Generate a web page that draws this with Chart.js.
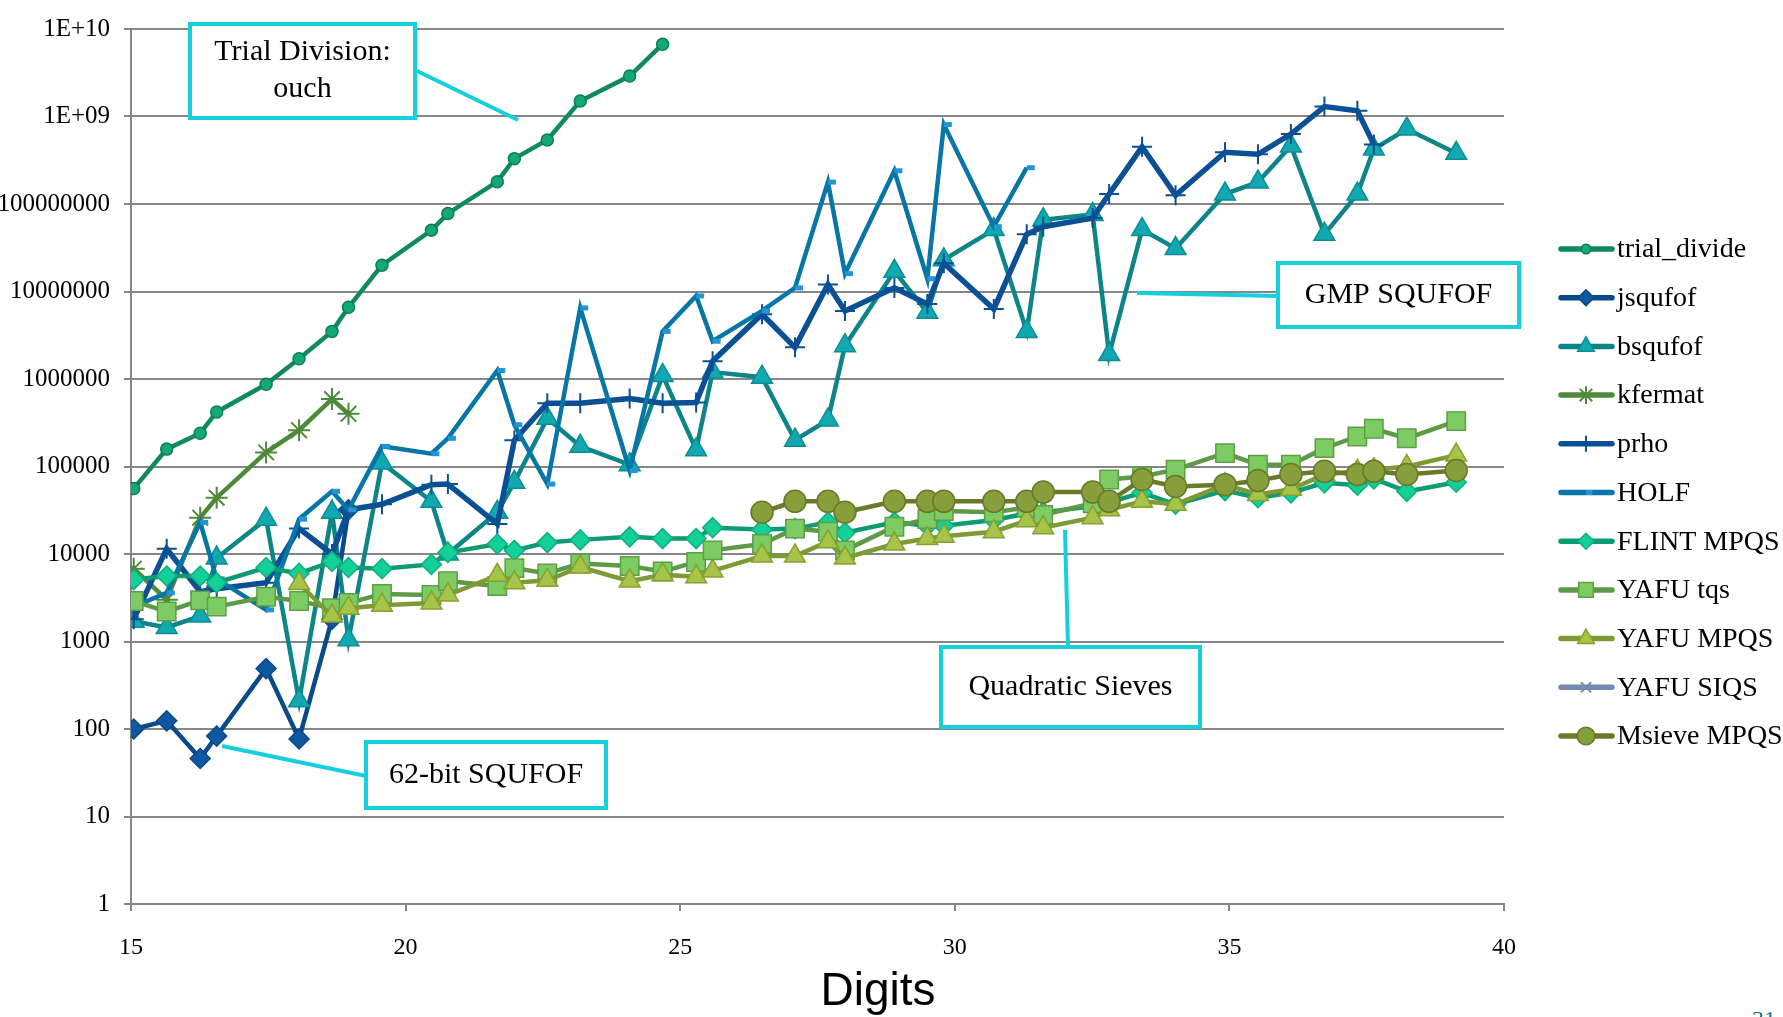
<!DOCTYPE html>
<html>
<head>
<meta charset="utf-8">
<title>Factoring time vs digits</title>
<script src="https://cdn.jsdelivr.net/npm/chart.js@4.4.0/dist/chart.umd.min.js"></script>
<style>
  html, body { margin: 0; padding: 0; background: #fff; }
  #wrap { width: 1783px; height: 1017px; position: relative; }
</style>
</head>
<body>
<div id="wrap"><canvas id="factorChart"></canvas></div>
<script>
// digits of the test semiprimes (x positions)
const digits = [15.05, 15.65, 16.26, 16.56, 17.46, 18.06, 18.66, 18.96, 19.57, 20.47,
  20.77, 21.67, 21.98, 22.58, 23.18, 24.08, 24.68, 25.29, 25.59, 26.49,
  27.09, 27.69, 28.00, 28.90, 29.50, 29.80, 30.71, 31.31, 31.61, 32.51,
  32.81, 33.41, 34.02, 34.92, 35.52, 36.12, 36.73, 37.33, 37.63, 38.23, 39.13];

// timings per algorithm, one entry per digits[] slot (null = not run)
const trialDivide = [56000, 158000, 240000, 420000, 870000, 1700000, 3500000, 6600000, 20000000, 50000000,
  78000000, 180000000, 330000000, 540000000, 1500000000, 2900000000, 6700000000];
const jsqufof = [100, 124, 46, 83, 490, 77, 1800, 32000];
const bsqufof = [1700, 1450, 1950, 9000, 25000, 210, 30000, 1050, 110000, 40000,
  10000, 30000, 66000, 355000, 170000, 105000, 1100000, 155000, 1200000, 1050000,
  200000, 340000, 2400000, 17000000, 5800000, 23000000, 51000000, 3500000, 66000000, 76000000,
  1900000, 51000000, 31000000, 130000000, 178000000, 460000000, 45000000, 130000000, 425000000, 720000000, 380000000];
const kfermat = [6800, 3000, 26000, 44000, 145000, 260000, 590000, 400000];
const prho = [1800, 11500, 3700, 4000, 4700, 19500, 10000, 32000, 37000, 62000,
  63000, 22000, 200000, 530000, 530000, 600000, 530000, 540000, 1600000, 5500000,
  2300000, 12000000, 6000000, 11000000, 7200000, 21000000, 6300000, 45000000, 55000000, 69000000,
  130000000, 450000000, 126000000, 390000000, 370000000, 630000000, 1300000000, 1160000000, 480000000];
const holf = [2500, 3600, 23000, 5200, 2300, 25000, 52000, 32000, 170000, 140000,
  210000, 1250000, 300000, 63000, 6500000, 90000, 3500000, 8900000, 2700000, 6000000,
  11000000, 178000000, 16000000, 240000000, 14000000, 810000000, 55000000, 260000000];
const flintMpqs = [5100, 5600, 5600, 4700, 7000, 6000, 8200, 7000, 6800, 7600,
  10400, 13000, 11000, 13500, 14500, 15700, 15000, 15000, 20000, 19000,
  19500, 23000, 17500, 23000, 21000, 21000, 24500, 29000, 30000, 35000,
  39000, 50000, 37000, 53000, 44000, 50000, 65000, 61000, 72000, 52000, 66000];
const yafuTqs = [2900, 2200, 2950, 2500, 3250, 2900, 2400, 2750, 3500, 3400,
  4900, 4300, 6900, 6000, 7800, 7300, 6300, 8100, 11000, 13000,
  19500, 18000, 11000, 20500, 25000, 31000, 30000, 34000, 28000, 38000,
  71000, 77000, 92000, 142000, 105000, 105000, 162000, 220000, 270000, 210000, 330000];
const yafuMpqs = [null, null, null, null, null, 4600, 1950, 2400, 2600, 2750,
  3400, 5700, 4700, 5000, 7100, 4900, 5800, 5500, 6400, 9500,
  9500, 13800, 9000, 13000, 15000, 16000, 18000, 24000, 20000, 26000,
  32000, 40000, 37000, 62000, 48000, 55000, 81000, 88000, 92000, 100000, 135000];
const yafuSiqs = [];
const msieveMpqs = [null, null, null, null, null, null, null, null, null, null,
  null, null, null, null, null, null, null, null, null, 30000,
  40000, 40000, 30000, 40000, 40000, 40000, 40000, 40000, 51000, 51000,
  40000, 71000, 59000, 62000, 69000, 81000, 88000, 81000, 88000, 81000, 90000];

const yTickValues = [1, 10, 100, 1000, 10000, 100000, 1000000, 10000000, 100000000, 1000000000, 10000000000];
const yTickLabels = ["1", "10", "100", "1000", "10000", "100000", "1000000", "10000000", "100000000", "1E+09", "1E+10"];
const xTitle = "Digits";

// callout boxes: [left, top, right, bottom], leader [x1, y1, x2, y2]
const callouts = [
  { text: ["Trial Division:", "ouch"], box: [190, 24, 415, 118], lead: [415, 70, 518, 120] },
  { text: ["GMP SQUFOF"], box: [1278, 263, 1519, 327], lead: [1137, 293, 1278, 296] },
  { text: ["Quadratic Sieves"], box: [941, 647, 1200, 727], lead: [1065, 530, 1068, 647] },
  { text: ["62-bit SQUFOF"], box: [366, 742, 606, 808], lead: [222, 746, 366, 776] }
];

const SERIF = "'Liberation Serif', 'Times New Roman', serif";
const GRID = "#868686";
const CALLOUT = "#13d0dc";

// turn a value list into {x, y} points, skipping gaps
function toPoints(values) {
  const pts = [];
  values.forEach((v, i) => {
    if (v !== null && v !== undefined) pts.push({ x: digits[i], y: v });
  });
  return pts;
}

function series(label, values, line, fill, edge, style, radius, width) {
  return {
    label: label,
    data: toPoints(values),
    borderColor: line,
    borderWidth: width || 4.5,
    backgroundColor: fill,
    pointBackgroundColor: fill,
    pointBorderColor: edge,
    pointBorderWidth: style === "cross" || style === "star" || style === "crossRot" ? 2 : (style === "dash" ? 5 : 1.5),
    pointStyle: style,
    pointRadius: radius,
    pointHoverRadius: radius,
    tension: 0,
    fill: false
  };
}

const datasets = [
  series("trial_divide", trialDivide, "#0f8a5f", "#12a878", "#0c7f56", "circle", 6),
  series("jsqufof", jsqufof, "#0a4a88", "#0d57a3", "#0a4a88", "rectRot", 10),
  series("bsqufof", bsqufof, "#0d8588", "#10a9b1", "#0c8d92", "triangle", 12),
  series("kfermat", kfermat, "#4d8a3a", "#4d8a3a", "#4d8a3a", "star", 11),
  series("prho", prho, "#0b4f94", "#0b4f94", "#0b4f94", "cross", 10, 5.5),
  series("HOLF", holf, "#0775a6", "#2394d6", "#2394d6", "dash", 8),
  series("FLINT MPQS", flintMpqs, "#0d9b72", "#13cf98", "#0fae7f", "rectRot", 10),
  series("YAFU tqs", yafuTqs, "#5d9a48", "#7ccb63", "#5e9e45", "rect", 13),
  series("YAFU MPQS", yafuMpqs, "#7e9a34", "#a6c447", "#86a031", "triangle", 12),
  series("YAFU SIQS", yafuSiqs, "#7588b0", "#7588b0", "#7588b0", "crossRot", 9),
  series("Msieve MPQS", msieveMpqs, "#677b2a", "#869e3c", "#667a28", "circle", 11)
];
// later series sit on top, like the original sheet
datasets.forEach((d, i) => { d.order = -i; });

// legend with a line through the marker, drawn by hand
const sideLegend = {
  id: "sideLegend",
  afterDraw(chart) {
    const ctx = chart.ctx;
    ctx.save();
    chart.data.datasets.forEach((d, i) => {
      const y = 249 + i * 48.7;
      ctx.strokeStyle = d.borderColor;
      ctx.lineWidth = 5.5;
      ctx.lineCap = "round";
      ctx.beginPath();
      ctx.moveTo(1561, y);
      ctx.lineTo(1612, y);
      ctx.stroke();
      ctx.lineCap = "butt";
      ctx.fillStyle = d.pointBackgroundColor;
      ctx.strokeStyle = d.pointBorderColor;
      ctx.lineWidth = d.pointBorderWidth;
      Chart.helpers.drawPoint(ctx, {
        pointStyle: d.pointStyle,
        radius: d.pointRadius * 0.8,
        rotation: 0,
        borderWidth: d.pointBorderWidth
      }, 1586, y);
      ctx.fillStyle = "#000";
      ctx.font = "28px " + SERIF;
      ctx.textAlign = "left";
      ctx.textBaseline = "middle";
      ctx.fillText(d.label, 1617, y + 1);
    });
    ctx.restore();
  }
};

const calloutPlugin = {
  id: "callouts",
  afterDraw(chart) {
    const ctx = chart.ctx;
    ctx.save();
    callouts.forEach(c => {
      ctx.strokeStyle = CALLOUT;
      ctx.lineWidth = 4;
      ctx.beginPath();
      ctx.moveTo(c.lead[0], c.lead[1]);
      ctx.lineTo(c.lead[2], c.lead[3]);
      ctx.stroke();
      const [l, t, r, b] = c.box;
      ctx.fillStyle = "#fff";
      ctx.fillRect(l, t, r - l, b - t);
      ctx.strokeRect(l, t, r - l, b - t);
      ctx.fillStyle = "#000";
      ctx.font = "30px " + SERIF;
      ctx.textAlign = "center";
      ctx.textBaseline = "middle";
      const cx = (l + r) / 2;
      const step = 37;
      const y0 = (t + b) / 2 - (c.text.length - 1) * step / 2;
      c.text.forEach((s, k) => ctx.fillText(s, cx, y0 + k * step));
    });
    // axis title and slide number
    ctx.fillStyle = "#000";
    ctx.font = "46px 'Liberation Sans', Arial, sans-serif";
    ctx.textAlign = "center";
    ctx.textBaseline = "middle";
    ctx.fillText(xTitle, 878, 992);
    ctx.fillStyle = "#1f6f8b";
    ctx.font = "24px " + SERIF;
    ctx.textBaseline = "top";
    ctx.fillText("31", 1764, 1009);
    ctx.restore();
  }
};

const ctx = document.getElementById("factorChart").getContext("2d");
new Chart(ctx, {
  type: "line",
  data: { datasets: datasets },
  options: {
    responsive: true,
    maintainAspectRatio: false,
    animation: false,
    devicePixelRatio: 1,
    layout: { padding: { left: 0, right: 279, top: 20, bottom: 0 } },
    plugins: {
      legend: { display: false },
      tooltip: { enabled: false }
    },
    scales: {
      x: {
        type: "linear",
        min: 15,
        max: 40,
        afterFit: (scale) => { scale.height = 113; },
        ticks: {
          stepSize: 5,
          color: "#000",
          padding: 22,
          font: { family: SERIF, size: 24 }
        },
        grid: { drawOnChartArea: false, drawTicks: true, tickLength: 7, color: GRID, lineWidth: 2 },
        border: { display: true, color: GRID, width: 2 }
      },
      y: {
        type: "logarithmic",
        min: 1,
        max: 10000000000,
        afterFit: (scale) => { scale.width = 131; },
        afterBuildTicks: (scale) => { scale.ticks = yTickValues.map(v => ({ value: v })); },
        ticks: {
          autoSkip: false,
          color: "#000",
          padding: 14,
          font: { family: SERIF, size: 25 },
          callback: (value, index) => yTickLabels[index]
        },
        grid: { color: GRID, lineWidth: 2, drawTicks: true, tickLength: 7 },
        border: { display: true, color: GRID, width: 2 }
      }
    }
  },
  plugins: [sideLegend, calloutPlugin]
});
</script>
</body>
</html>
